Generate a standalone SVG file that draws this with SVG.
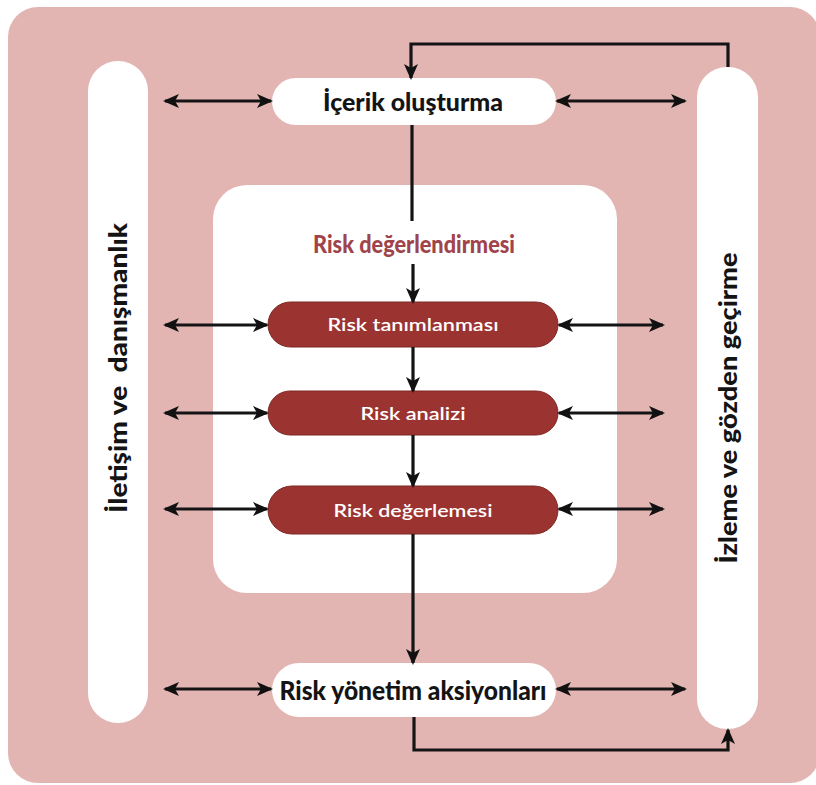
<svg xmlns="http://www.w3.org/2000/svg" width="816" height="785" viewBox="0 0 816 785">
  <defs>
    <marker id="ah" viewBox="0 0 16 16" refX="14" refY="8" markerWidth="16" markerHeight="16" markerUnits="userSpaceOnUse" orient="auto-start-reverse">
      <path d="M0,1 L16,8 L0,15 L4,8 z" fill="#111"/>
    </marker>
    <style>
      .bg { fill: #E2B5B2; }
      .side { fill: #FFFFFF; }
      .white { fill: #FFFFFF; }
      .red { fill: #9B3431; stroke: #7E2624; stroke-width: 1; }
      .lbl { font-family: Lato, "Open Sans", "Liberation Sans", sans-serif; font-weight: 900; text-anchor: middle; }
      .dark { fill: #141414; }
      .wt { fill: #FFFFFF; font-size: 18px; font-weight: 600; }
      .title { fill: #A0444B; font-size: 24px; }
      .ln { stroke: #141414; stroke-width: 3.2; fill: none; }
      .arr { marker-end: url(#ah); }
      .dbl { marker-start: url(#ah); marker-end: url(#ah); }
    </style>
  </defs>

  <!-- outer panel -->
  <rect class="bg" x="8" y="7" width="812" height="776" rx="30"/>

  <!-- inner assessment panel -->
  <g id="risk-degerlendirmesi">
    <rect class="white" x="213" y="185" width="404" height="408" rx="34"/>
    <text class="lbl title" x="414" y="253" textLength="202" lengthAdjust="spacingAndGlyphs">Risk değerlendirmesi</text>
  </g>

  <g id="iletisim">
    <rect class="side" x="88" y="61" width="60" height="662" rx="30"/>
    <text class="lbl dark" font-size="25" xml:space="preserve" transform="translate(127,368) rotate(-90)" textLength="290" lengthAdjust="spacingAndGlyphs">İletişim ve  danışmanlık</text>
  </g>

  <g id="izleme">
    <rect class="side" x="697" y="67" width="61" height="662" rx="30"/>
    <text class="lbl dark" font-size="25" transform="translate(737,408) rotate(-90)" textLength="311" lengthAdjust="spacingAndGlyphs">İzleme ve gözden geçirme</text>
  </g>

  <g id="icerik">
    <rect class="white" x="272" y="78" width="284" height="47" rx="23.5"/>
    <text class="lbl dark" font-size="25" x="413" y="111" textLength="180" lengthAdjust="spacingAndGlyphs">İçerik oluşturma</text>
  </g>

  <g id="tanimlanmasi">
    <rect class="red" x="268" y="302" width="290" height="45" rx="22.5"/>
    <text class="lbl wt" x="413" y="331" textLength="171" lengthAdjust="spacingAndGlyphs">Risk tanımlanması</text>
  </g>

  <g id="analizi">
    <rect class="red" x="268" y="391" width="290" height="44" rx="22"/>
    <text class="lbl wt" x="413" y="420" textLength="105" lengthAdjust="spacingAndGlyphs">Risk analizi</text>
  </g>

  <g id="degerlemesi">
    <rect class="red" x="268" y="486" width="290" height="48" rx="24"/>
    <text class="lbl wt" x="413" y="517" textLength="159" lengthAdjust="spacingAndGlyphs">Risk değerlemesi</text>
  </g>

  <g id="aksiyonlar">
    <rect class="white" x="272" y="663" width="284" height="54" rx="27"/>
    <text class="lbl dark" font-size="27" x="413" y="700" textLength="267" lengthAdjust="spacingAndGlyphs">Risk yönetim aksiyonları</text>
  </g>

  <g id="connectors">
    <!-- main flow -->
    <path class="ln" d="M412,125 V221"/>
    <path class="ln arr" d="M413,264 V302"/>
    <path class="ln arr" d="M413,347 V391"/>
    <path class="ln arr" d="M413,435 V486"/>
    <path class="ln arr" d="M413,534 V663"/>
    <!-- review loop -->
    <path class="ln arr" d="M728,67 V44 H411 V78"/>
    <path class="ln arr" d="M414,717 V750 H728 V730"/>
    <!-- exchanges with side bars -->
    <path class="ln dbl" d="M165,101 H271"/>
    <path class="ln dbl" d="M557,101 H685"/>
    <path class="ln dbl" d="M165,325 H267"/>
    <path class="ln dbl" d="M559,325 H663"/>
    <path class="ln dbl" d="M165,413 H267"/>
    <path class="ln dbl" d="M559,413 H663"/>
    <path class="ln dbl" d="M165,509 H267"/>
    <path class="ln dbl" d="M559,509 H663"/>
    <path class="ln dbl" d="M165,689 H271"/>
    <path class="ln dbl" d="M557,689 H685"/>
  </g>
</svg>
